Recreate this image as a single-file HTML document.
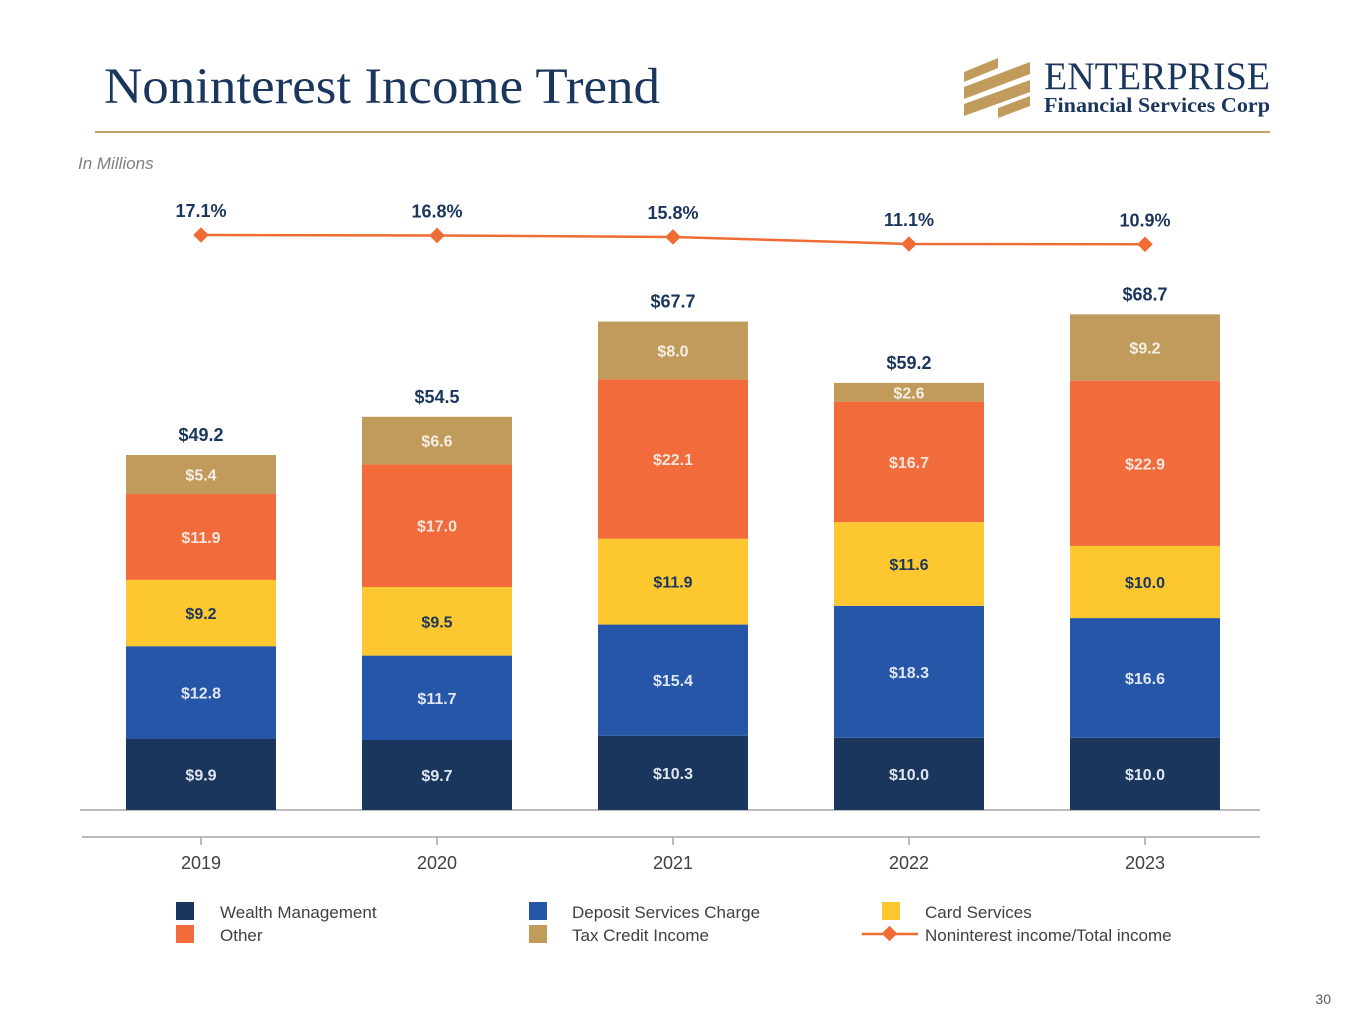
<!DOCTYPE html>
<html><head><meta charset="utf-8"><style>
html,body{margin:0;padding:0;background:#fff;width:1365px;height:1024px;overflow:hidden}
svg{display:block;font-family:"Liberation Sans",sans-serif}
</style></head><body>
<svg id="c" width="1365" height="1024">
<text x="104" y="103" font-family="Liberation Serif,serif" font-size="51" fill="#1b365d" textLength="556" lengthAdjust="spacingAndGlyphs">Noninterest Income Trend</text>
<line x1="95" y1="132" x2="1270" y2="132" stroke="#c4a265" stroke-width="2"/>
<g>
<g fill="#c09b5c">
<polygon points="964,72 998,58 998,68 964,82"/>
<polygon points="964,87 1030,62 1030,74 964,99"/>
<polygon points="964,104 1030,80 1030,92 964,116"/>
<polygon points="998,108 1030,96 1030,106 998,118"/>
</g>
<text x="1044" y="89" font-family="Liberation Serif,serif" font-size="39" fill="#1b365d" textLength="226" lengthAdjust="spacingAndGlyphs">ENTERPRISE</text>
<text x="1044" y="112" font-family="Liberation Serif,serif" font-size="21" font-weight="bold" fill="#1b365d" textLength="226" lengthAdjust="spacingAndGlyphs">Financial Services Corp</text>
</g>
<text x="78" y="169" font-size="17" font-style="italic" fill="#7f7f7f">In Millions</text>
<line x1="80" y1="810" x2="1260" y2="810" stroke="#a6a6a6" stroke-width="1.5"/>
<line x1="82" y1="837" x2="1260" y2="837" stroke="#a6a6a6" stroke-width="1.5"/>
<g id="bars"></g><g id="line"></g><g id="axis"></g>
<g font-size="17" fill="#404040">
<rect x="176" y="902" width="18" height="18" fill="#1b365d"/>
<text x="220" y="918">Wealth Management</text>
<rect x="176" y="925" width="18" height="18" fill="#f26b3a"/>
<text x="220" y="941">Other</text>
<rect x="529" y="902" width="18" height="18" fill="#2556a8"/>
<text x="572" y="918">Deposit Services Charge</text>
<rect x="529" y="925" width="18" height="18" fill="#c09b5c"/>
<text x="572" y="941">Tax Credit Income</text>
<rect x="882" y="902" width="18" height="18" fill="#fdc82f"/>
<text x="925" y="918">Card Services</text>
<line x1="862" y1="934" x2="918" y2="934" stroke="#ef6c35" stroke-width="2.5"/>
<rect x="884" y="928" width="11" height="11" fill="#ef6c35" transform="rotate(45 889.5 933.5)"/>
<text x="925" y="941">Noninterest income/Total income</text>
</g>
<text x="1331" y="1004" font-size="14" fill="#595959" text-anchor="end">30</text>
</svg>
<script>
const years=["2019","2020","2021","2022","2023"];
const wealth=[9.9,9.7,10.3,10.0,10.0];
const deposit=[12.8,11.7,15.4,18.3,16.6];
const card=[9.2,9.5,11.9,11.6,10.0];
const other=[11.9,17.0,22.1,16.7,22.9];
const tax=[5.4,6.6,8.0,2.6,9.2];
const totals=[49.2,54.5,67.7,59.2,68.7];
const ratio=[17.1,16.8,15.8,11.1,10.9];
const NS="http://www.w3.org/2000/svg";
const x=i=>201+i*236;
const y=v=>810-v*7.215;
const ry=p=>235+(17.1-p)*1.5;
function mk(t,a,p){const e=document.createElementNS(NS,t);for(const k in a)e.setAttribute(k,a[k]);p.appendChild(e);return e;}
const bars=document.getElementById('bars');
const series=[[wealth,"#1b365d","#dfe6f0","wealth"],[deposit,"#2556a8","#dfe6f0","deposit"],[card,"#fdc82f","#1b365d","card"],[other,"#f26b3a","#f2e6e0","other"],[tax,"#c09b5c","#f4eee4","tax"]];
years.forEach((yr,i)=>{
 let cum=0;
 series.forEach(s=>{
  const v=s[0][i];const y0=y(cum),y1=y(cum+v);
  const r=mk('rect',{x:x(i)-75,y:y1,width:150,height:y0-y1,fill:s[1]},bars);
  
  
  const t=mk('text',{x:x(i),y:(y0+y1)/2+6,'text-anchor':'middle','font-size':16,'font-weight':'bold',fill:s[2]},bars);
  t.textContent='$'+v.toFixed(1);
  
  
  cum+=v;
 });
 const tt=mk('text',{x:x(i),y:y(totals[i])-14,'text-anchor':'middle','font-size':18,'font-weight':'bold',fill:'#1b365d'},bars);
 tt.textContent='$'+totals[i].toFixed(1);
 
 
});
const ln=document.getElementById('line');
const pl=mk('polyline',{points:ratio.map((p,i)=>x(i)+','+ry(p)).join(' '),fill:'none',stroke:'#ef6c35','stroke-width':2.5},ln);


ratio.forEach((p,i)=>{
 const d=mk('rect',{x:x(i)-5.5,y:ry(p)-5.5,width:11,height:11,fill:'#ef6c35',transform:`rotate(45 ${x(i)} ${ry(p)})`},ln);
 
 
 const t=mk('text',{x:x(i),y:ry(p)-18,'text-anchor':'middle','font-size':18,'font-weight':'bold',fill:'#1b365d'},ln);
 t.textContent=p.toFixed(1)+'%';
 
 
});
const ax=document.getElementById('axis');
years.forEach((yr,i)=>{
 const tk=mk('line',{x1:x(i),y1:837,x2:x(i),y2:845,stroke:'#a6a6a6','stroke-width':1.5},ax);
 
 
 const t=mk('text',{x:x(i),y:869,'text-anchor':'middle','font-size':18,fill:'#404040'},ax);
 t.textContent=yr;
 
 
});
</script>
</body></html>
